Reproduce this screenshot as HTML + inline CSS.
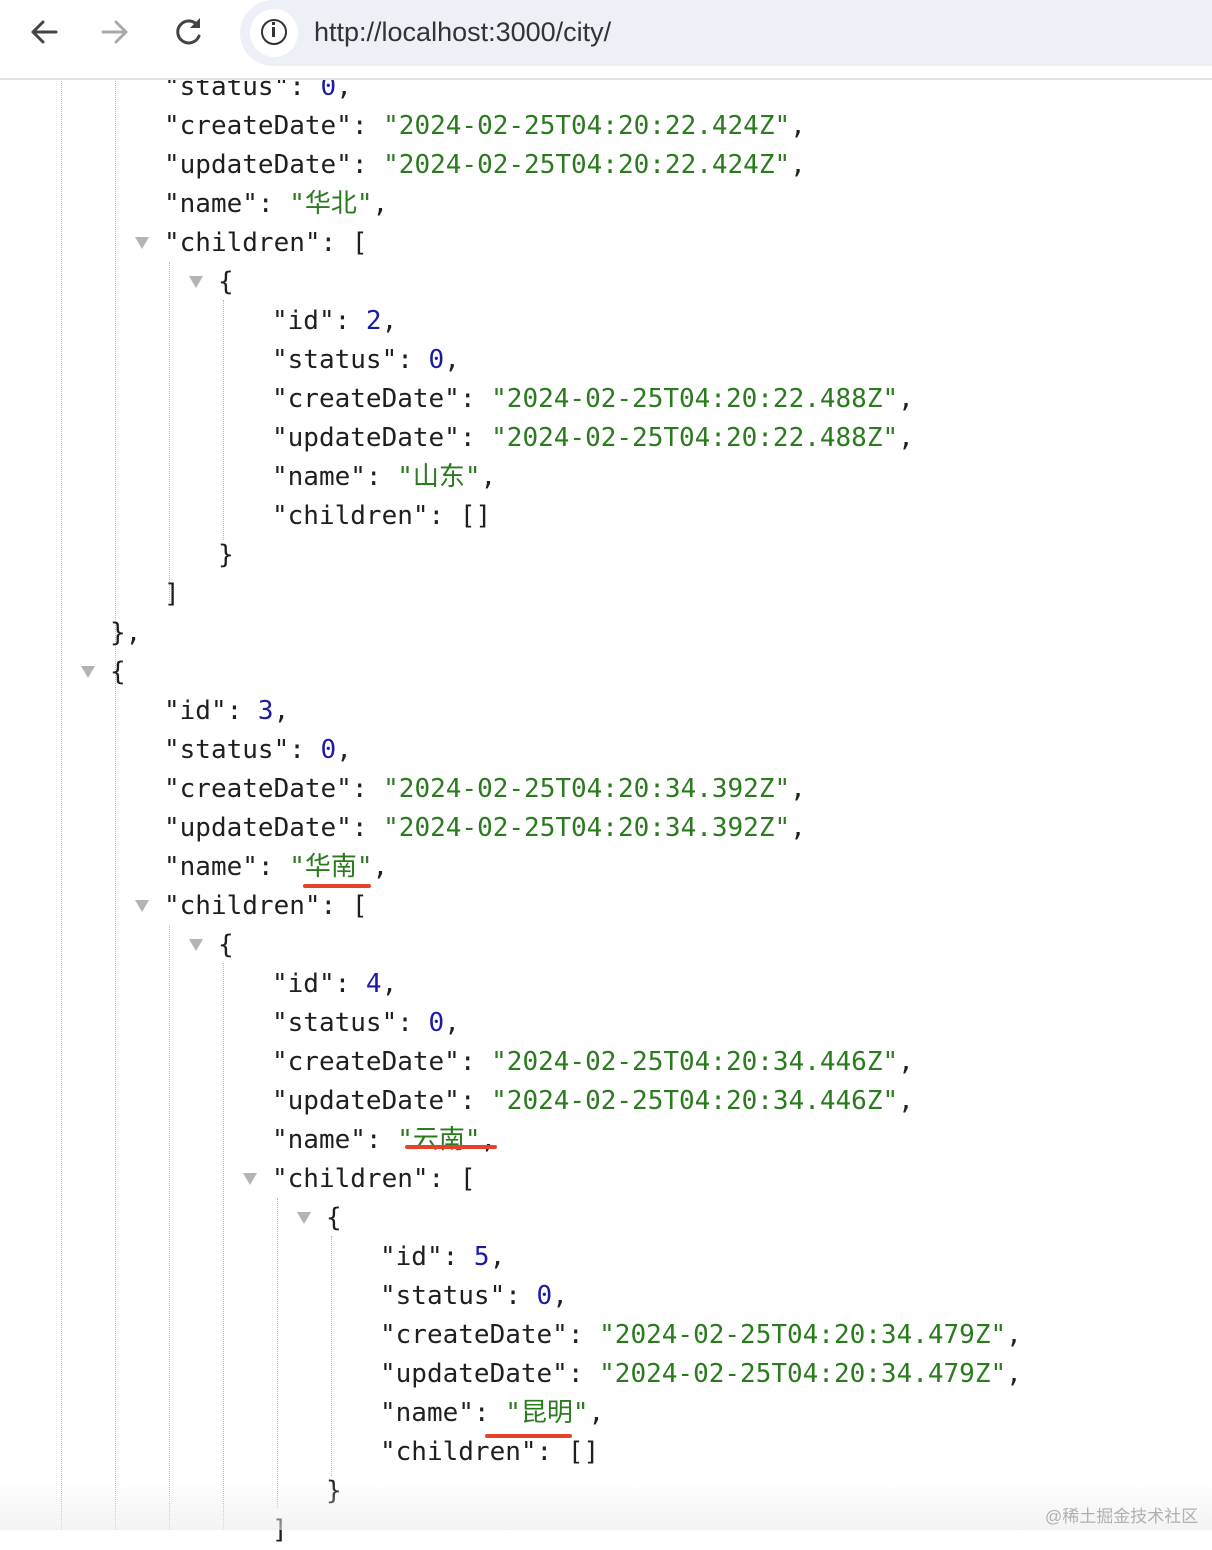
<!DOCTYPE html>
<html><head><meta charset="utf-8"><style>
body{margin:0;width:1212px;height:1530px;overflow:hidden;background:#fff;position:relative;font-family:"DejaVu Sans Mono","Noto Sans CJK SC",monospace;}
.l{position:absolute;white-space:pre;font-size:26px;line-height:39px;height:39px;color:#1f1f1f;margin-top:2px;}
.s{color:#2a7a1e}.n{color:#1a1aa6}
.t{position:absolute;width:0;height:0;border-left:7px solid transparent;border-right:7px solid transparent;border-top:12px solid #b4b4b4;}
.d{position:absolute;width:0;border-left:1.5px dotted #b9b9b9;}
.u{position:absolute;height:4px;background:#e5412b;border-radius:2px;}
#hdr{position:absolute;left:0;top:0;width:1212px;height:78px;background:#fff;border-bottom:2px solid #e3e3e3;z-index:5;}
</style></head><body>
<div id="hdr">
<svg width="240" height="66" style="position:absolute;left:0;top:0">
<g stroke="#444" stroke-width="3" fill="none" stroke-linecap="round" stroke-linejoin="round">
<path d="M56 32H33M43 22L33 32L43 42"/>
</g>
<g stroke="#a9a9a9" stroke-width="3" fill="none" stroke-linecap="round" stroke-linejoin="round">
<path d="M103 32H126M116 22L126 32L116 42"/>
</g>
<g stroke="#444" stroke-width="3" fill="none" stroke-linecap="round">
<path d="M198 26A11 11 0 1 0 199 36"/>
</g>
<path d="M200 18L200 28L190 28Z" fill="#444"/>
</svg>
<div style="position:absolute;left:240px;top:0;width:990px;height:66px;background:#edf0f7;border-radius:33px 0 0 33px;"></div>
<div style="position:absolute;left:250px;top:9px;width:48px;height:48px;border-radius:24px;background:#fff;"></div>
<div style="position:absolute;left:261px;top:19px;width:22px;height:22px;border:2.5px solid #333;border-radius:50%;"></div>
<div style="position:absolute;left:272px;top:27px;width:3px;height:10px;background:#333"></div>
<div style="position:absolute;left:272px;top:22px;width:3px;height:3px;background:#333"></div>
<div style="position:absolute;left:314px;top:17px;font-family:'Liberation Sans',sans-serif;font-size:27px;color:#333;">http://localhost:3000/city/</div>
</div>

<div class="d" style="left:61px;top:78px;height:1452px"></div>
<div class="d" style="left:115px;top:78px;height:1452px"></div>
<div class="d" style="left:169px;top:262px;height:340px"></div>
<div class="d" style="left:223px;top:300px;height:240px"></div>
<div class="d" style="left:169px;top:925px;height:605px"></div>
<div class="d" style="left:223px;top:963px;height:567px"></div>
<div class="d" style="left:277px;top:1198px;height:310px"></div>
<div class="d" style="left:331px;top:1236px;height:240px"></div>

<div class="t" style="left:135px;top:237px"></div>
<div class="t" style="left:189px;top:276px"></div>
<div class="t" style="left:81px;top:666px"></div>
<div class="t" style="left:135px;top:900px"></div>
<div class="t" style="left:189px;top:939px"></div>
<div class="t" style="left:243px;top:1173px"></div>
<div class="t" style="left:297px;top:1212px"></div>

<div class="l" style="left:164px;top:66px">"status": <span class="n">0</span>,</div>
<div class="l" style="left:164px;top:105px">"createDate": <span class="s">"2024-02-25T04:20:22.424Z"</span>,</div>
<div class="l" style="left:164px;top:144px">"updateDate": <span class="s">"2024-02-25T04:20:22.424Z"</span>,</div>
<div class="l" style="left:164px;top:183px">"name": <span class="s">"华北"</span>,</div>
<div class="l" style="left:164px;top:222px">"children": [</div>
<div class="l" style="left:218px;top:261px">{</div>
<div class="l" style="left:272px;top:300px">"id": <span class="n">2</span>,</div>
<div class="l" style="left:272px;top:339px">"status": <span class="n">0</span>,</div>
<div class="l" style="left:272px;top:378px">"createDate": <span class="s">"2024-02-25T04:20:22.488Z"</span>,</div>
<div class="l" style="left:272px;top:417px">"updateDate": <span class="s">"2024-02-25T04:20:22.488Z"</span>,</div>
<div class="l" style="left:272px;top:456px">"name": <span class="s">"山东"</span>,</div>
<div class="l" style="left:272px;top:495px">"children": []</div>
<div class="l" style="left:218px;top:534px">}</div>
<div class="l" style="left:164px;top:573px">]</div>
<div class="l" style="left:110px;top:612px">},</div>
<div class="l" style="left:110px;top:651px">{</div>
<div class="l" style="left:164px;top:690px">"id": <span class="n">3</span>,</div>
<div class="l" style="left:164px;top:729px">"status": <span class="n">0</span>,</div>
<div class="l" style="left:164px;top:768px">"createDate": <span class="s">"2024-02-25T04:20:34.392Z"</span>,</div>
<div class="l" style="left:164px;top:807px">"updateDate": <span class="s">"2024-02-25T04:20:34.392Z"</span>,</div>
<div class="l" style="left:164px;top:846px">"name": <span class="s">"华南"</span>,</div>
<div class="l" style="left:164px;top:885px">"children": [</div>
<div class="l" style="left:218px;top:924px">{</div>
<div class="l" style="left:272px;top:963px">"id": <span class="n">4</span>,</div>
<div class="l" style="left:272px;top:1002px">"status": <span class="n">0</span>,</div>
<div class="l" style="left:272px;top:1041px">"createDate": <span class="s">"2024-02-25T04:20:34.446Z"</span>,</div>
<div class="l" style="left:272px;top:1080px">"updateDate": <span class="s">"2024-02-25T04:20:34.446Z"</span>,</div>
<div class="l" style="left:272px;top:1119px">"name": <span class="s">"云南"</span>,</div>
<div class="l" style="left:272px;top:1158px">"children": [</div>
<div class="l" style="left:326px;top:1197px">{</div>
<div class="l" style="left:380px;top:1236px">"id": <span class="n">5</span>,</div>
<div class="l" style="left:380px;top:1275px">"status": <span class="n">0</span>,</div>
<div class="l" style="left:380px;top:1314px">"createDate": <span class="s">"2024-02-25T04:20:34.479Z"</span>,</div>
<div class="l" style="left:380px;top:1353px">"updateDate": <span class="s">"2024-02-25T04:20:34.479Z"</span>,</div>
<div class="l" style="left:380px;top:1392px">"name": <span class="s">"昆明"</span>,</div>
<div class="l" style="left:380px;top:1431px">"children": []</div>
<div class="l" style="left:326px;top:1470px">}</div>
<div class="l" style="left:272px;top:1509px">]</div>

<div class="u" style="left:303px;top:884px;width:68px"></div>
<div class="u" style="left:405px;top:1145px;width:92px"></div>
<div class="u" style="left:485px;top:1434px;width:87px"></div>

<div style="position:absolute;left:0;top:1480px;width:1212px;height:50px;background:linear-gradient(rgba(240,240,240,0),rgba(235,235,235,0.6));"></div>
<div style="position:absolute;left:1045px;top:1502px;font-family:'Liberation Sans','Noto Sans CJK SC',sans-serif;font-size:17px;color:#b0b0b0;">@稀土掘金技术社区</div>
</body></html>
